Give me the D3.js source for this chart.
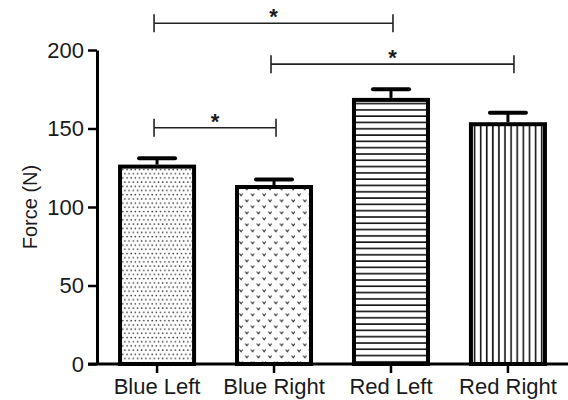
<!DOCTYPE html>
<html>
<head>
<meta charset="utf-8">
<script src="https://cdn.jsdelivr.net/npm/d3@7"></script>
<style>
  html, body { margin: 0; padding: 0; background: #fff; }
  svg { display: block; }
  text { font-family: Arial, "Liberation Sans", sans-serif; fill: #1a1a1a; }
</style>
</head>
<body>
<svg id="chart" width="568" height="400"></svg>
<script>
// ---- data ----
const categories = ["Blue Left", "Blue Right", "Red Left", "Red Right"];
const means = [127, 114, 169.5, 154];
const errors = [4, 3.5, 5.5, 6];
const patterns = ["dots", "vees", "hlines", "vlines"];
const yTicks = [0, 50, 100, 150, 200];
const yLabel = "Force (N)";
// significance comparisons: [from index, to index, level in data units]
const compFrom = [0, 1, 0];
const compTo = [2, 3, 1];
const compLevel = [217, 191, 150.5];
const compLabel = ["*", "*", "*"];

// ---- layout ----
const svg = d3.select("#chart");
const x = d3.scaleBand().domain(categories).range([97, 568]).paddingInner(0.333).paddingOuter(0.18);
const y = d3.scaleLinear().domain([0, 200]).range([364, 50]);
const bw = x.bandwidth();

// ---- patterns ----
const defs = svg.append("defs");
const pDots = defs.append("pattern").attr("id", "dots").attr("patternUnits", "userSpaceOnUse")
  .attr("width", 4.2).attr("height", 8.4);
pDots.append("rect").attr("width", 4.2).attr("height", 8.4).attr("fill", "#fff");
pDots.append("circle").attr("cx", 1).attr("cy", 1.5).attr("r", 0.85).attr("fill", "#333");
pDots.append("circle").attr("cx", 3.1).attr("cy", 5.7).attr("r", 0.85).attr("fill", "#333");

const pVees = defs.append("pattern").attr("id", "vees").attr("patternUnits", "userSpaceOnUse")
  .attr("width", 11.6).attr("height", 12)
  .attr("patternTransform", `translate(${x("Blue Right") + 2},0)`);
pVees.append("rect").attr("width", 11.6).attr("height", 12).attr("fill", "#fff");
[[4, 2.5], [9.8, 8.5]].forEach(([cx, cy]) => {
  pVees.append("path").attr("d", `M${cx - 1.6},${cy - 1} L${cx},${cy + 1.2} L${cx + 1.6},${cy - 1}`)
    .attr("fill", "none").attr("stroke", "#333").attr("stroke-width", 1.1);
});

const pH = defs.append("pattern").attr("id", "hlines").attr("patternUnits", "userSpaceOnUse")
  .attr("width", 10).attr("height", 6.3);
pH.append("rect").attr("width", 10).attr("height", 6.3).attr("fill", "#fff");
pH.append("rect").attr("x", 0).attr("y", 2).attr("width", 10).attr("height", 1.6).attr("fill", "#111");

const pV = defs.append("pattern").attr("id", "vlines").attr("patternUnits", "userSpaceOnUse")
  .attr("width", 6.1).attr("height", 10)
  .attr("patternTransform", `translate(${x("Red Right") + 4},0)`);
pV.append("rect").attr("width", 6.1).attr("height", 10).attr("fill", "#fff");
pV.append("rect").attr("x", 0.8).attr("y", 0).attr("width", 1.6).attr("height", 10).attr("fill", "#111");

// ---- bars ----
const data = categories.map((c, i) => ({ c, m: means[i], e: errors[i], p: patterns[i] }));

// error bars (drawn first so stem sits behind bar top)
const eb = svg.append("g");
data.forEach(d => {
  const cx = x(d.c) + bw / 2;
  eb.append("line").attr("x1", cx).attr("x2", cx).attr("y1", y(d.m)).attr("y2", y(d.m + d.e))
    .attr("stroke", "#000").attr("stroke-width", 3);
  eb.append("line").attr("x1", cx - 18).attr("x2", cx + 18).attr("y1", y(d.m + d.e)).attr("y2", y(d.m + d.e))
    .attr("stroke", "#000").attr("stroke-width", 4).attr("stroke-linecap", "round");
});

svg.append("g").selectAll("rect").data(data).join("rect")
  .attr("x", d => x(d.c) + 2)
  .attr("width", bw - 4)
  .attr("y", d => y(d.m) + 2)
  .attr("height", d => y(0) - y(d.m) - 2)
  .attr("fill", d => `url(#${d.p})`)
  .attr("stroke", "#000")
  .attr("stroke-width", 4);

// ---- axes ----
const yAxis = svg.append("g").attr("transform", "translate(97,0)")
  .call(d3.axisLeft(y).tickValues(yTicks).tickSize(9).tickSizeOuter(0).tickPadding(4));
yAxis.select(".domain").attr("stroke", "#000").attr("stroke-width", 3);
yAxis.selectAll(".tick line").attr("stroke", "#000").attr("stroke-width", 2.5);
yAxis.selectAll(".tick text").attr("font-size", 22).attr("fill", "#1a1a1a")
  .attr("font-family", "Arial, 'Liberation Sans', sans-serif");

const xAxis = svg.append("g").attr("transform", "translate(0,364)")
  .call(d3.axisBottom(x).tickSize(9).tickSizeOuter(0).tickPadding(5));
xAxis.select(".domain").attr("d", "M88,0H568").attr("stroke", "#000").attr("stroke-width", 3);
xAxis.selectAll(".tick line").attr("stroke", "#000").attr("stroke-width", 2.5);
xAxis.selectAll(".tick text").attr("font-size", 22).attr("fill", "#1a1a1a")
  .attr("font-family", "Arial, 'Liberation Sans', sans-serif");

svg.append("text")
  .attr("transform", `translate(37,${(y(0) + y(200)) / 2}) rotate(-90)`)
  .attr("text-anchor", "middle")
  .attr("font-size", 20)
  .text(yLabel);

// ---- significance brackets ----
const br = svg.append("g");
const endShift = [2, 6, 2];
compFrom.forEach((f, i) => {
  const x1 = x(categories[f]) + bw / 2 - 3;
  const x2 = x(categories[compTo[i]]) + bw / 2 + endShift[i];
  const yy = y(compLevel[i]);
  br.append("line").attr("x1", x1).attr("x2", x2).attr("y1", yy).attr("y2", yy)
    .attr("stroke", "#222").attr("stroke-width", 1.6);
  [x1, x2].forEach(xx => br.append("line").attr("x1", xx).attr("x2", xx)
    .attr("y1", yy - 9).attr("y2", yy + 9).attr("stroke", "#222").attr("stroke-width", 1.6));
  br.append("text").attr("x", (x1 + x2) / 2).attr("y", yy + 1)
    .attr("text-anchor", "middle").attr("font-size", 22).attr("font-weight", "bold")
    .text(compLabel[i]);
});
</script>
</body>
</html>
